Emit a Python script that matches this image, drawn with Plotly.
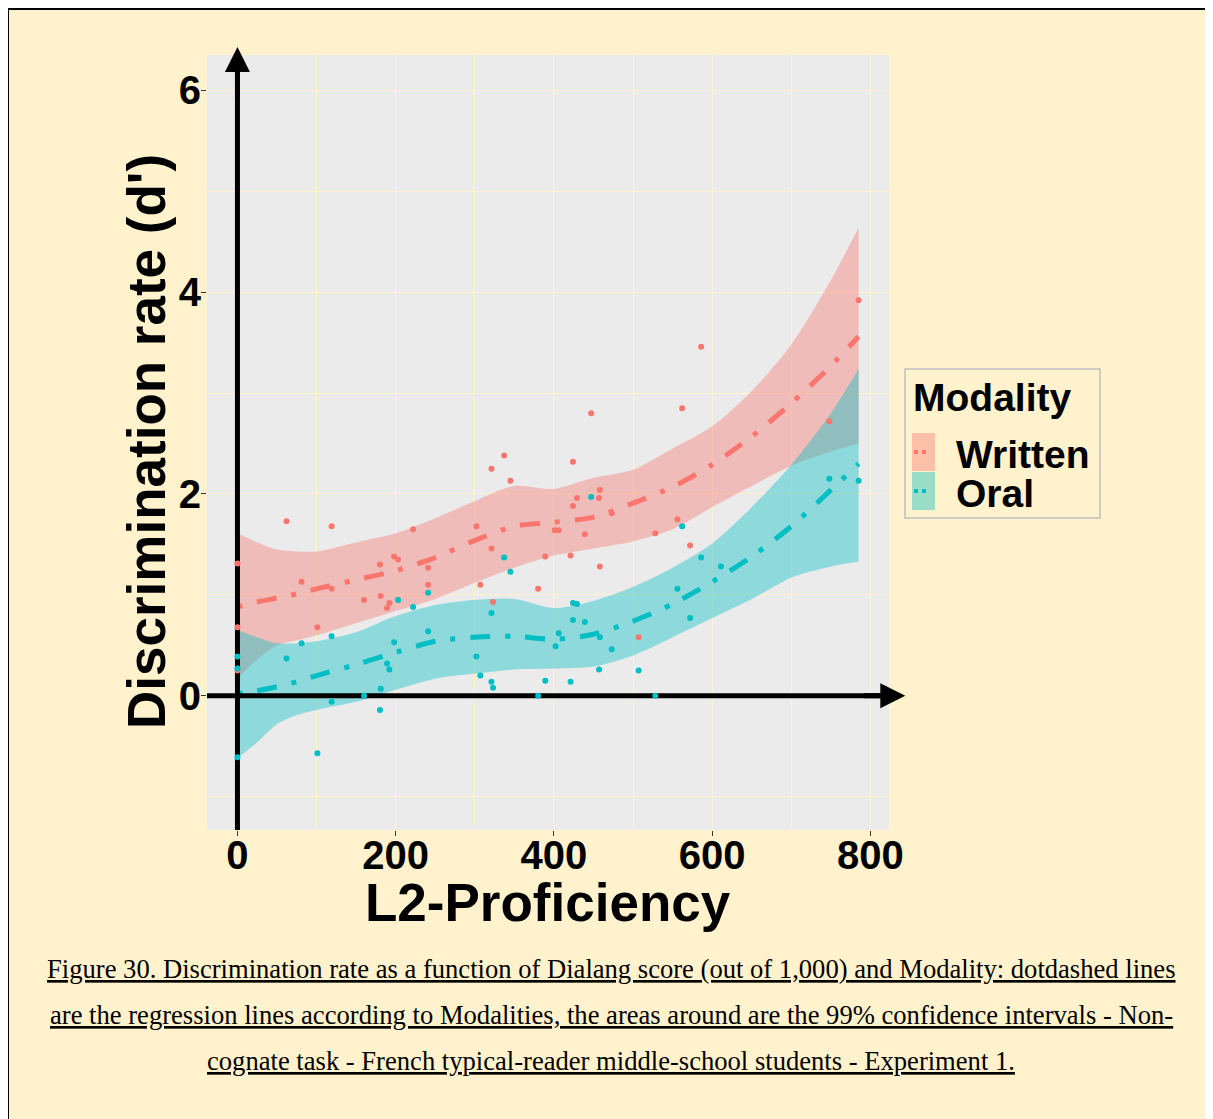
import plotly.graph_objects as go

# ---------------- data ----------------
series_names = ["Written", "Oral"]
series_colors = ["#F8766D", "#00BFC4"]
series_fills = ["rgba(248,118,109,0.4)", "rgba(0,191,196,0.4)"]

written_x = [0, 0, 0, 62, 81, 101, 119, 119, 160, 180, 181, 189, 192, 198, 203, 222, 241, 241,
             302, 307, 321, 321, 323, 337, 345, 380, 389, 401, 406, 421, 424, 424, 429, 439,
             447, 457, 458, 458, 473, 507, 528, 556, 562, 572, 586, 748, 785]
written_y = [1.31, 0.68, 0.25, 1.73, 1.13, 0.68, 1.68, 1.06, 0.95, 1.30, 0.99, 0.87, 0.92, 1.38, 1.35, 1.65, 1.27, 1.10,
             1.68, 1.10, 2.25, 1.46, 0.93, 2.38, 2.13, 1.06, 1.38, 1.64, 1.64, 1.39, 2.32, 1.88, 1.96, 1.60,
             2.80, 1.96, 2.04, 1.28, 1.81, 0.58, 1.61, 1.75, 2.85, 1.49, 3.46, 2.72, 3.92]

oral_x = [0, 0, 0, 62, 81, 101, 119, 119, 160, 180, 181, 189, 192, 198, 203, 222, 241, 241,
          302, 307, 321, 321, 323, 337, 345, 380, 389, 402, 406, 421, 424, 424, 429, 439,
          447, 457, 458, 473, 507, 528, 556, 562, 572, 586, 611, 748, 785]
oral_y = [0.39, 0.27, -0.61, 0.37, 0.52, -0.57, 0.59, -0.06, 0.00, -0.14, 0.07, 0.32, 0.26, 0.53, 0.95, 0.88, 1.02, 0.64,
          0.39, 0.20, 0.82, 0.14, 0.08, 1.37, 1.23, 0.00, 0.15, 0.49, 0.62, 0.14, 0.92, 0.75, 0.91, 0.73,
          1.97, 0.26, 0.58, 0.46, 0.25, 0.00, 1.06, 1.68, 0.77, 1.37, 1.28, 2.15, 2.13]

fit_x = [0, 25, 50, 75, 100, 150, 200, 250, 300, 350, 400, 450, 500, 550, 600, 650, 700, 750, 785]
written_fit = [0.88, 0.93, 0.97, 1.01, 1.06, 1.15, 1.24, 1.37, 1.54, 1.68, 1.72, 1.77, 1.91, 2.07, 2.29, 2.57, 2.90, 3.27, 3.56]
written_upper = [1.61, 1.52, 1.45, 1.43, 1.43, 1.52, 1.61, 1.76, 1.93, 2.08, 2.05, 2.16, 2.24, 2.45, 2.67, 3.02, 3.48, 4.12, 4.64]
written_lower = [0.17, 0.36, 0.50, 0.55, 0.60, 0.72, 0.84, 0.96, 1.12, 1.27, 1.39, 1.46, 1.53, 1.65, 1.87, 2.08, 2.28, 2.42, 2.50]
oral_fit = [0.02, 0.05, 0.09, 0.14, 0.20, 0.31, 0.43, 0.54, 0.58, 0.59, 0.56, 0.61, 0.74, 0.91, 1.13, 1.38, 1.68, 2.04, 2.30]
oral_upper = [0.65, 0.58, 0.52, 0.52, 0.54, 0.63, 0.79, 0.90, 0.95, 0.96, 0.87, 0.94, 1.08, 1.27, 1.51, 1.87, 2.29, 2.80, 3.24]
oral_lower = [-0.62, -0.46, -0.28, -0.19, -0.14, -0.06, 0.06, 0.17, 0.22, 0.26, 0.27, 0.29, 0.40, 0.58, 0.77, 0.96, 1.17, 1.28, 1.33]

x_ticks = [0, 200, 400, 600, 800]
y_ticks = [0, 2, 4, 6]

x_title = "L2-Proficiency"
y_title = "Discrimination rate (d')"
legend_title = "Modality"
caption_lines = [
    "Figure 30. Discrimination rate as a function of Dialang score (out of 1,000) and Modality: dotdashed lines",
    "are the regression lines according to Modalities, the areas around are the 99% confidence intervals - Non-",
    "cognate task - French typical-reader middle-school students - Experiment 1.",
]

# ---------------- layout geometry ----------------
W, H = 1205, 1111
OFF = 8  # page body margin
ML, MR, MT = 199, 324, 47
PW, PH = W - ML - MR, 775
MB = H - MT - PH
X_RANGE = [-38.5, 823.4]
Y_RANGE = [-1.33, 6.35]

BG = "#FFF2CC"
PANEL = "#EBEBEB"
FONT = "Liberation Sans, Arial, sans-serif"
SERIF = "Liberation Serif, Times New Roman, serif"


def px(sx):
    return (sx - OFF - ML) / PW


def py(sy):
    return (MT + PH - (sy - OFF)) / PH


series = [
    (written_x, written_y, written_fit, written_upper, written_lower),
    (oral_x, oral_y, oral_fit, oral_upper, oral_lower),
]

fig = go.Figure()

# confidence bands (lower edge, then upper edge filled down to it)
for i, (_, _, fit, up, lo) in enumerate(series):
    fig.add_trace(go.Scatter(
        x=fit_x, y=lo, mode="lines", line=dict(width=0, shape="spline", smoothing=0.8),
        hoverinfo="skip", showlegend=False, name=series_names[i] + " CI low"))
    fig.add_trace(go.Scatter(
        x=fit_x, y=up, mode="lines", fill="tonexty", fillcolor=series_fills[i],
        line=dict(width=0, shape="spline", smoothing=0.8), hoverinfo="skip",
        showlegend=False, name=series_names[i] + " CI high"))

# regression lines
for i, (_, _, fit, up, lo) in enumerate(series):
    fig.add_trace(go.Scatter(
        x=fit_x, y=fit, mode="lines",
        line=dict(color=series_colors[i], width=5, dash="5px,15px,20px,15px", shape="spline", smoothing=0.8),
        showlegend=False, name=series_names[i] + " fit"))

# axis lines through the origin
fig.add_trace(go.Scatter(x=[0, 0], y=Y_RANGE, mode="lines", line=dict(color="black", width=5),
                         hoverinfo="skip", showlegend=False))
fig.add_trace(go.Scatter(x=X_RANGE, y=[0, 0], mode="lines", line=dict(color="black", width=5),
                         hoverinfo="skip", showlegend=False))

# points
for i, (xs, ys, _, _, _) in enumerate(series):
    fig.add_trace(go.Scatter(x=xs, y=ys, mode="markers",
                             marker=dict(color=series_colors[i], size=6, line=dict(width=0)),
                             name=series_names[i], showlegend=False, cliponaxis=False))

annotations = []
# arrow heads
annotations.append(dict(x=0, y=6.43, ax=0, ay=5.9, xref="x", yref="y", axref="x", ayref="y",
                        text="", showarrow=True, arrowhead=2, arrowsize=1.0, arrowwidth=5,
                        arrowcolor="black", standoff=0))
annotations.append(dict(x=844, y=0, ax=790, ay=0, xref="x", yref="y", axref="x", ayref="y",
                        text="", showarrow=True, arrowhead=2, arrowsize=1.0, arrowwidth=5,
                        arrowcolor="black", standoff=0))

# axis titles
annotations.append(dict(x=px(548), y=py(902), xref="paper", yref="paper", text=f"<b>{x_title}</b>",
                        showarrow=False, xanchor="center", yanchor="middle",
                        font=dict(family=FONT, size=53, color="black")))
annotations.append(dict(x=px(146), y=py(442), xref="paper", yref="paper", text=f"<b>{y_title}</b>",
                        showarrow=False, xanchor="center", yanchor="middle", textangle=-90,
                        font=dict(family=FONT, size=53, color="black")))

# legend (drawn manually to match ggplot style)
shapes = []
shapes.append(dict(type="rect", xref="paper", yref="paper", x0=px(905), x1=px(1100), y0=py(518), y1=py(369),
                   line=dict(color="#BFBFBF", width=1.5), fillcolor=BG, layer="above"))
annotations.append(dict(x=px(911), y=py(397), xref="paper", yref="paper", text=f"<b>{legend_title}</b>",
                        showarrow=False, xanchor="left", yanchor="middle",
                        font=dict(family=FONT, size=39, color="black")))
key_tops = [433, 472]
for i, name in enumerate(series_names):
    t = key_tops[i]
    shapes.append(dict(type="rect", xref="paper", yref="paper", x0=px(912), x1=px(935),
                       y0=py(t + 38), y1=py(t), line=dict(width=0), fillcolor=series_fills[i], layer="above"))
    shapes.append(dict(type="line", xref="paper", yref="paper", x0=px(914), x1=px(927),
                       y0=py(t + 19), y1=py(t + 19), line=dict(color=series_colors[i], width=4, dash="dot"),
                       layer="above"))
    annotations.append(dict(x=px(954), y=py(t + 21), xref="paper", yref="paper", text=f"<b>{name}</b>",
                            showarrow=False, xanchor="left", yanchor="middle",
                            font=dict(family=FONT, size=39, color="black")))

# caption
for k, line in enumerate(caption_lines):
    annotations.append(dict(x=px(611), y=py(969 + 46 * k), xref="paper", yref="paper",
                            text=f"<u>{line}</u>", showarrow=False, xanchor="center", yanchor="middle",
                            font=dict(family=SERIF, size=26.6, color="black")))

# page frame lines (top and left)
shapes.append(dict(type="line", xref="paper", yref="paper", x0=px(7), x1=px(1300), y0=py(9), y1=py(9),
                   line=dict(color="black", width=2), layer="above"))
shapes.append(dict(type="line", xref="paper", yref="paper", x0=px(8), x1=px(8), y0=py(9), y1=py(1200),
                   line=dict(color="black", width=2), layer="above"))

fig.update_layout(
    width=W, height=H, autosize=False,
    margin=dict(l=ML, r=MR, t=MT, b=MB, pad=0),
    paper_bgcolor=BG, plot_bgcolor=PANEL,
    showlegend=False,
    font=dict(family=FONT, color="black"),
    annotations=annotations, shapes=shapes,
    xaxis=dict(range=X_RANGE, tickvals=x_ticks, ticktext=[f"<b>{v}</b>" for v in x_ticks],
               showgrid=True, gridcolor=BG, gridwidth=1.4, zeroline=False, showline=False,
               ticks="outside", ticklen=5, tickwidth=1.1, tickcolor="#333333", ticklabelstandoff=-15,
               tickfont=dict(family=FONT, size=40, color="black"),
               minor=dict(tickvals=[100, 300, 500, 700], showgrid=True, gridcolor=BG, gridwidth=0.7, ticks="")),
    yaxis=dict(range=Y_RANGE, tickvals=y_ticks, ticktext=[f"<b>{v}</b>" for v in y_ticks],
               showgrid=True, gridcolor=BG, gridwidth=1.4, zeroline=False, showline=False,
               ticks="outside", ticklen=5, tickwidth=1.1, tickcolor="#333333", ticklabelstandoff=-8,
               tickfont=dict(family=FONT, size=40, color="black"),
               minor=dict(tickvals=[-1, 1, 3, 5], showgrid=True, gridcolor=BG, gridwidth=0.7, ticks="")),
)

fig.write_html("out.html")
